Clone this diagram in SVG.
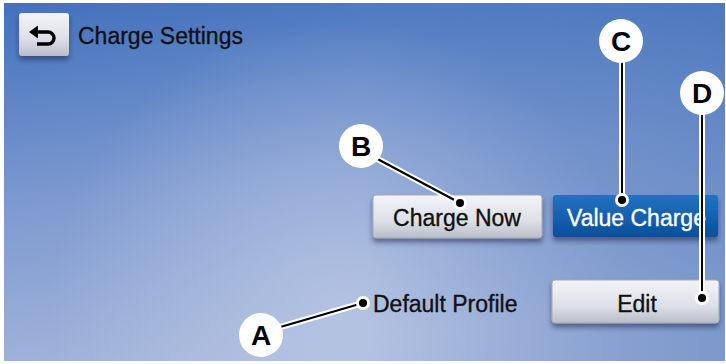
<svg xmlns="http://www.w3.org/2000/svg" width="726" height="364" viewBox="0 0 726 364">
<defs>
<linearGradient id="bg" x1="0" y1="0" x2="0.25" y2="1">
<stop offset="0" stop-color="#4271bd"/>
<stop offset="0.55" stop-color="#7f9bd0"/>
<stop offset="1" stop-color="#a3b4da"/>
</linearGradient>
<radialGradient id="glow" cx="340" cy="310" r="290" gradientUnits="userSpaceOnUse">
<stop offset="0" stop-color="#c3cfe8" stop-opacity="0.6"/>
<stop offset="1" stop-color="#c3cfe8" stop-opacity="0"/>
</radialGradient>
<linearGradient id="tr" x1="0" y1="0" x2="1" y2="0">
<stop offset="0.5" stop-color="#3466b2" stop-opacity="0"/>
<stop offset="1" stop-color="#3466b2" stop-opacity="0.35"/>
</linearGradient>
<linearGradient id="btn" x1="0" y1="0" x2="0" y2="1">
<stop offset="0" stop-color="#f3f4f8"/>
<stop offset="0.6" stop-color="#dde0e8"/>
<stop offset="1" stop-color="#b9bdc8"/>
</linearGradient>
<linearGradient id="blue" x1="0" y1="0" x2="0" y2="1">
<stop offset="0" stop-color="#2272c2"/>
<stop offset="1" stop-color="#0a4f9b"/>
</linearGradient>
<filter id="sh" x="-10%" y="-20%" width="120%" height="160%">
<feDropShadow dx="0" dy="4" stdDeviation="2.5" flood-color="#1a2a50" flood-opacity="0.55"/>
</filter>
</defs>
<style>
.lbl{font-family:"Liberation Sans",Arial,sans-serif;font-size:23px;fill:#111;stroke:#111;stroke-width:0.35}
.btxt{font-family:"Liberation Sans",Arial,sans-serif;font-size:23px;text-anchor:middle;fill:#111;stroke:#111;stroke-width:0.35}
.call circle{fill:#fff}
.call text{font-family:"Liberation Sans",Arial,sans-serif;font-weight:bold;font-size:28px;text-anchor:middle;fill:#000}
.halo{stroke:#fff;stroke-width:6;fill:none;stroke-linecap:round}
.core{stroke:#000;stroke-width:2;fill:none}
.dotw{fill:#fff}
.dotb{fill:#000}
</style>
<rect x="0" y="0" width="726" height="364" fill="#fff"/>
<rect x="4" y="3" width="721" height="358" fill="url(#bg)"/>
<rect x="4" y="3" width="721" height="358" fill="url(#glow)"/>
<rect x="4" y="3" width="721" height="358" fill="url(#tr)"/>

<g id="back">
<rect x="19" y="13" width="50" height="43" rx="3" fill="url(#btn)" filter="url(#sh)"/>
<path d="M36 32 H48 A6 6 0 0 1 48 44 H37" stroke="#000" stroke-width="3.4" fill="none"/>
<path d="M29 32 L38 25.5 L38 38.5 Z" fill="#000"/>
</g>
<g id="title"><text class="lbl" x="78" y="44">Charge Settings</text></g>

<g id="charge-now">
<rect x="373" y="195" width="169" height="43" rx="3" fill="url(#btn)" stroke="#a3a9b8" stroke-width="1" filter="url(#sh)"/>
<text class="btxt" x="457" y="226">Charge Now</text>
</g>
<g id="value-charge">
<rect x="553" y="195" width="165" height="42" rx="3" fill="url(#blue)" filter="url(#sh)"/>
<text class="btxt" x="567" y="226" style="text-anchor:start;fill:#fff;stroke:#fff">Value Charge</text>
</g>
<g id="default-profile"><text class="lbl" x="373" y="312">Default Profile</text></g>
<g id="edit">
<rect x="552" y="280" width="167" height="43" rx="3" fill="url(#btn)" stroke="#a3a9b8" stroke-width="1" filter="url(#sh)"/>
<text class="btxt" x="637" y="312">Edit</text>
</g>

<g id="connectors">
<path class="halo" d="M270 330 L363 303"/>
<path class="halo" d="M370 155 L460 203"/>
<path class="halo" d="M622 55 L622 200"/>
<path class="halo" d="M702 105 L702 298"/>
<path class="core" d="M270 330 L363 303"/>
<path class="core" d="M370 155 L460 203"/>
<path class="core" d="M622 55 L622 200"/>
<path class="core" d="M702 105 L702 298"/>
<circle class="dotw" cx="363" cy="303" r="7"/><circle class="dotb" cx="363" cy="303" r="4"/>
<circle class="dotw" cx="460" cy="203" r="7"/><circle class="dotb" cx="460" cy="203" r="4"/>
<circle class="dotw" cx="622" cy="200" r="7"/><circle class="dotb" cx="622" cy="200" r="4"/>
<circle class="dotw" cx="702" cy="298" r="7"/><circle class="dotb" cx="702" cy="298" r="4"/>
</g>

<g id="callout-A" class="call"><circle cx="261" cy="335" r="22"/><text x="261" y="345">A</text></g>
<g id="callout-B" class="call"><circle cx="361" cy="146" r="22"/><text x="361" y="156">B</text></g>
<g id="callout-C" class="call"><circle cx="621" cy="41" r="22"/><text x="621" y="51">C</text></g>
<g id="callout-D" class="call"><circle cx="702" cy="93" r="22"/><text x="702" y="103">D</text></g>
</svg>
